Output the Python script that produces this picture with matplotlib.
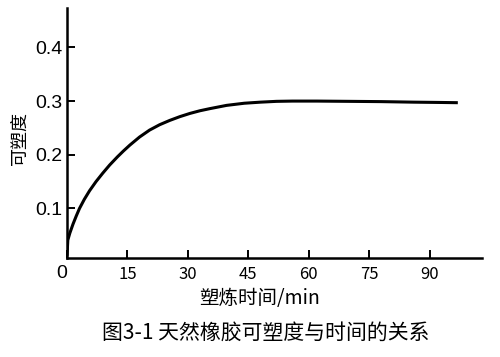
import numpy as np
import matplotlib
matplotlib.use("Agg")
import matplotlib.pyplot as plt
import matplotlib.transforms as mtransforms

plt.rcParams['font.family'] = ['Noto Sans CJK SC', 'DejaVu Sans']

# 数据
time_min = [0, 0.2, 0.7, 1.5, 2.3, 3.1, 4.3, 5.6, 7.2, 8.9, 10.6, 12.5, 14.0,
            15.6, 18.0, 20.5, 23.0, 25.5, 28.0, 30.5, 33.0, 35.5, 39.6, 44.0,
            48.0, 52.0, 56.0, 62.0, 70.0, 78.0, 86.0, 92.0, 97.0]
plasticity = [0.012, 0.041, 0.054, 0.071, 0.086, 0.100, 0.117, 0.133, 0.150, 0.166,
              0.181, 0.196, 0.207, 0.218, 0.233, 0.246, 0.256, 0.264, 0.271, 0.277,
              0.282, 0.286, 0.292, 0.296, 0.298, 0.2995, 0.300, 0.300, 0.2995, 0.299,
              0.298, 0.2975, 0.297]

x_ticks = [0, 15, 30, 45, 60, 75, 90]
y_ticks = [0.1, 0.2, 0.3, 0.4]
x_label = "塑炼时间/min"
y_label = "可塑度"
caption = "图3-1 天然橡胶可塑度与时间的关系"

fig = plt.figure(figsize=(5.0, 3.57), dpi=100)
ax = fig.add_axes([0.134, 0.277, 0.830, 0.700])

ax.plot(time_min, plasticity, color='black', lw=2.2, solid_capstyle='butt')

ax.set_xlim(0, 103)
ax.set_ylim(0.0075, 0.473)

for s in ['top', 'right']:
    ax.spines[s].set_visible(False)
for s in ['left', 'bottom']:
    ax.spines[s].set_linewidth(1.8)
    ax.spines[s].set_color('black')

ax.set_xticks(x_ticks)
ax.set_xticklabels([str(v) for v in x_ticks])
ax.set_yticks(y_ticks)
ax.set_yticklabels([f"{v:.1f}" for v in y_ticks])

ax.tick_params(axis='both', direction='in', length=5.8, width=1.4, color='black')
ax.tick_params(axis='x', pad=6, labelsize=12)
ax.tick_params(axis='y', pad=3.5, labelsize=14)

for lab in ax.get_yticklabels():
    lab.set_fontfamily(['Liberation Sans', 'DejaVu Sans'])

# 原点处的 "0" 字体不同且稍微左移
xlabs = ax.get_xticklabels()
xlabs[0].set_fontfamily(['Liberation Sans', 'DejaVu Sans'])
xlabs[0].set_fontsize(14)
xlabs[0].set_transform(xlabs[0].get_transform() +
                       mtransforms.ScaledTranslation(-5 / 100, 1 / 100, fig.dpi_scale_trans))

ax.set_xlabel(x_label, fontsize=14, va='center')
ax.xaxis.set_label_coords(0.465, -0.16)
ax.set_ylabel(y_label, fontsize=13, va='center', fontweight='medium')
ax.yaxis.set_label_coords(-0.113, 0.48)

fig.text(266 / 500, 1 - 333 / 357, caption, fontsize=15, ha='center', va='center')

fig.savefig("out.png", dpi=100)
